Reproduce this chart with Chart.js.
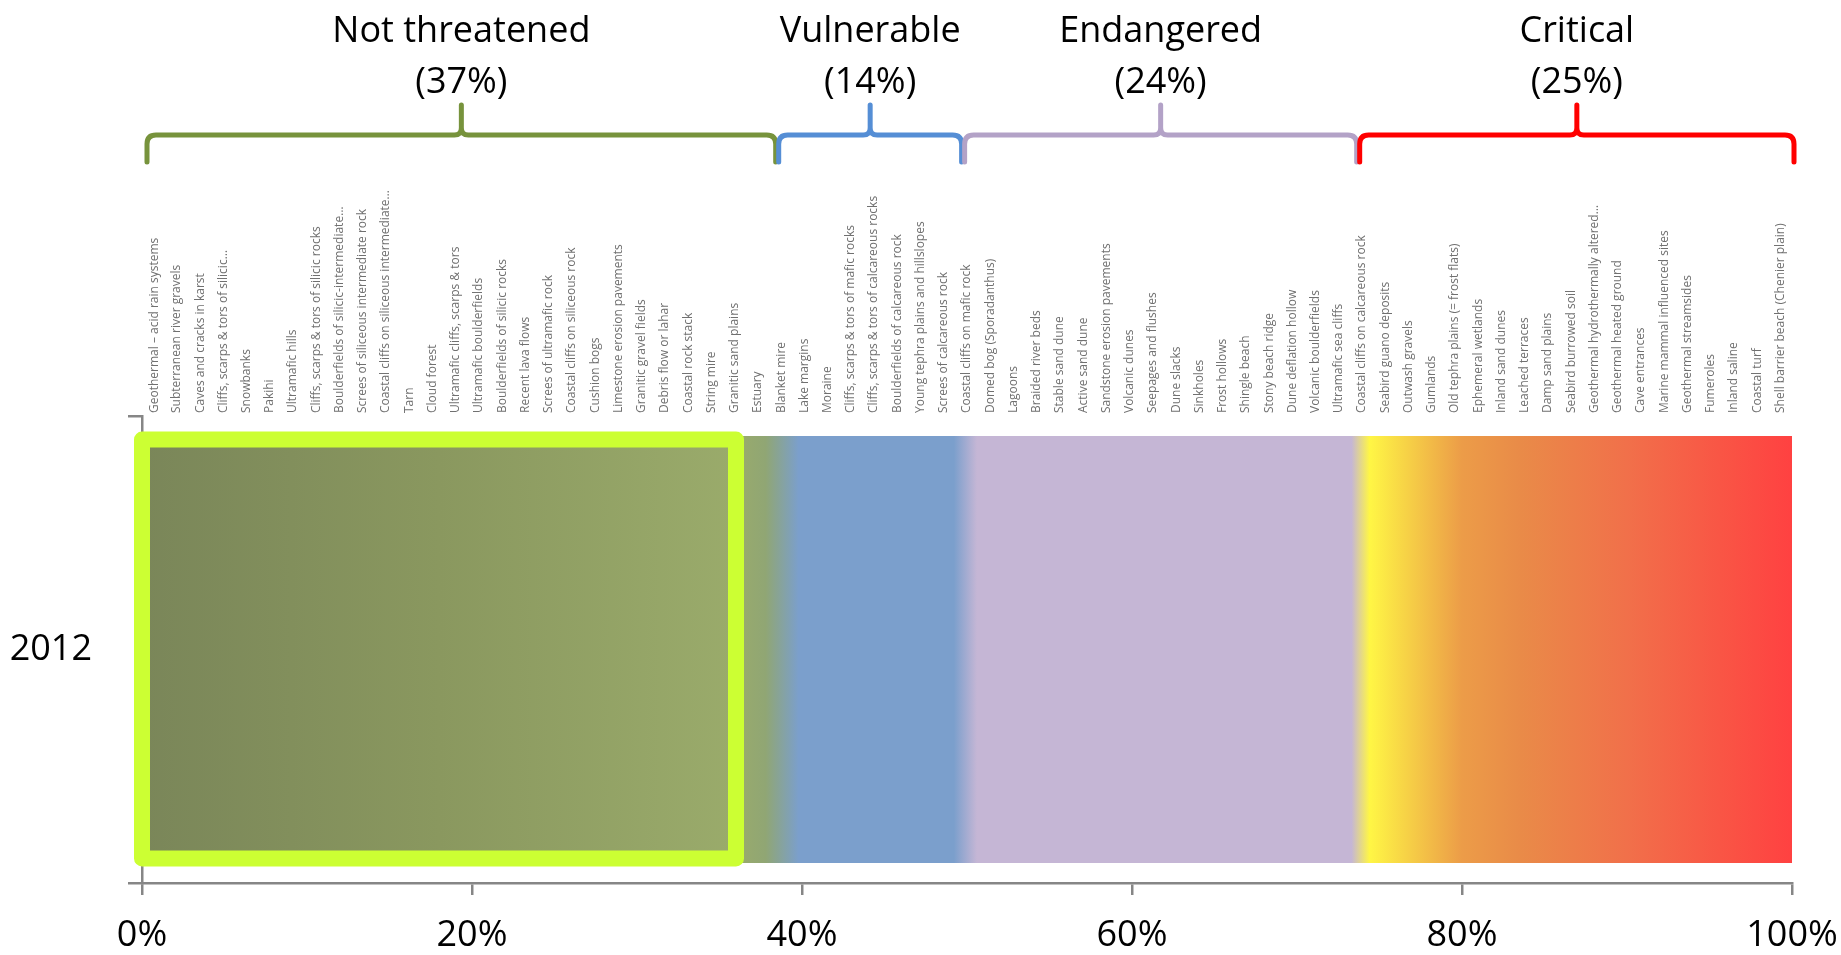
<!DOCTYPE html>
<html>
<head>
<meta charset="utf-8">
<title>Threat status of naturally uncommon ecosystems, 2012</title>
<script src="https://cdn.jsdelivr.net/npm/chart.js@4.4.1/dist/chart.umd.min.js"></script>
<style>
  html, body { margin: 0; padding: 0; background: #ffffff; }
  #wrap { width: 1841px; height: 955px; position: relative; }
</style>
</head>
<body>
<div id="wrap"><canvas id="chart"></canvas></div>
<script>
// ---- data -------------------------------------------------------------
const years = ['2012'];

const notThreatened = [
  'Geothermal – acid rain systems', 'Subterranean river gravels', 'Caves and cracks in karst',
  'Cliffs, scarps & tors of silicic…', 'Snowbanks', 'Pakihi', 'Ultramafic hills',
  'Cliffs, scarps & tors of silicic rocks', 'Boulderfields of silicic-intermediate…',
  'Screes of siliceous intermediate rock', 'Coastal cliffs on siliceous intermediate…',
  'Tarn', 'Cloud forest', 'Ultramafic cliffs, scarps & tors', 'Ultramafic boulderfields',
  'Boulderfields of silicic rocks', 'Recent lava flows', 'Screes of ultramafic rock',
  'Coastal cliffs on siliceous rock', 'Cushion bogs', 'Limestone erosion pavements',
  'Granitic gravel fields', 'Debris flow or lahar', 'Coastal rock stack', 'String mire',
  'Granitic sand plains', 'Estuary', 'Blanket mire'
];
const vulnerable = [
  'Lake margins', 'Moraine', 'Cliffs, scarps & tors of mafic rocks',
  'Cliffs, scarps & tors of calcareous rocks', 'Boulderfields of calcareous rock',
  'Young tephra plains and hillslopes', 'Screes of calcareous rock', 'Coastal cliffs on mafic rock'
];
const endangered = [
  'Domed bog (Sporadanthus)', 'Lagoons', 'Braided river beds', 'Stable sand dune',
  'Active sand dune', 'Sandstone erosion pavements', 'Volcanic dunes', 'Seepages and flushes',
  'Dune slacks', 'Sinkholes', 'Frost hollows', 'Shingle beach', 'Stony beach ridge',
  'Dune deflation hollow', 'Volcanic boulderfields', 'Ultramafic sea cliffs',
  'Coastal cliffs on calcareous rock'
];
const critical = [
  'Seabird guano deposits', 'Outwash gravels', 'Gumlands', 'Old tephra plains (= frost flats)',
  'Ephemeral wetlands', 'Inland sand dunes', 'Leached terraces', 'Damp sand plains',
  'Seabird burrowed soil', 'Geothermal hydrothermally altered…', 'Geothermal heated ground',
  'Cave entrances', 'Marine mammal influenced sites', 'Geothermal streamsides', 'Fumeroles',
  'Inland saline', 'Coastal turf', 'Shell barrier beach (Chenier plain)'
];

const groupNames  = ['Not threatened', 'Vulnerable', 'Endangered', 'Critical'];
const groupShares = [37, 14, 24, 25];          // % of ecosystems in each class
const xTickValues = [0, 20, 40, 60, 80, 100];   // % axis ticks
const highlightSpan = [0, 36];                  // % span of the outlined block

// ---- styles -----------------------------------------------------------
const FONT = '"Open Sans", "Liberation Sans", sans-serif';
const AXIS_GREY = '#868686';
const braceColors = ['#77933c', '#558ed5', '#b3a2c7', '#ff0000'];
const gradientStops = [
  [0.0,  '#7a8659'], [18.0, '#8a985f'], [36.0, '#9aab6b'], [37.8, '#90a674'],
  [39.8, '#7b9fcc'], [49.2, '#7b9fcc'], [50.6, '#c5b6d5'], [73.3, '#c5b6d5'],
  [74.4, '#fff645'], [76.5, '#f7d446'], [80.0, '#ec9c48'], [83.5, '#e98b48'],
  [90.0, '#f1704a'], [100.0, '#ff4141']
];

const groups = [notThreatened, vulnerable, endangered, critical];
const ecosystems = groups.flat();
const sharePerEcosystem = 100 / ecosystems.length;

// One continuous gradient across the whole axis, shared by every segment
function barGradient(ctx) {
  const chart = ctx.chart;
  const area = chart.chartArea;
  if (!area) return '#999999';
  if (!chart.$barGrad || chart.$barGradKey !== area.left + ':' + area.right) {
    const g = chart.ctx.createLinearGradient(area.left, 0, area.right, 0);
    gradientStops.forEach(([p, c]) => g.addColorStop(p / 100, c));
    chart.$barGrad = g;
    chart.$barGradKey = area.left + ':' + area.right;
  }
  return chart.$barGrad;
}

const datasets = ecosystems.map(name => ({
  label: name,
  data: [sharePerEcosystem],
  backgroundColor: barGradient,
  borderWidth: 0,
  inflateAmount: 0.6,
  barPercentage: 0.912,
  categoryPercentage: 1.0
}));

// Curly brace over a range, with a centre spike
function drawBrace(ctx, x0, x1, y, color) {
  const xm = (x0 + x1) / 2, r = 9, drop = 27, rise = 30;
  ctx.save();
  ctx.strokeStyle = color;
  ctx.lineWidth = 5;
  ctx.lineCap = 'round';
  ctx.lineJoin = 'round';
  ctx.beginPath();
  ctx.moveTo(x0, y + drop);
  ctx.lineTo(x0, y + r);
  ctx.quadraticCurveTo(x0, y, x0 + r, y);
  ctx.lineTo(xm - 7, y);
  ctx.quadraticCurveTo(xm, y, xm, y - 7);
  ctx.lineTo(xm, y - rise);
  ctx.moveTo(xm, y - 7);
  ctx.quadraticCurveTo(xm, y, xm + 7, y);
  ctx.lineTo(x1 - r, y);
  ctx.quadraticCurveTo(x1, y, x1, y + r);
  ctx.lineTo(x1, y + drop);
  ctx.stroke();
  ctx.restore();
}

const decorations = {
  id: 'decorations',
  afterDatasetsDraw(chart) {
    const { ctx } = chart;
    const x = chart.scales.x;
    const bar = chart.getDatasetMeta(0).data[0];
    const top = bar.y - bar.height / 2;
    const bottom = bar.y + bar.height / 2;
    const xa = x.getPixelForValue(highlightSpan[0]);
    const xb = x.getPixelForValue(highlightSpan[1]);
    ctx.save();
    ctx.strokeStyle = '#ccff33';
    ctx.lineWidth = 16;
    ctx.lineJoin = 'round';
    ctx.strokeRect(xa, top + 3, xb - xa, bottom - top - 7);
    ctx.restore();
  },
  afterDraw(chart) {
    const { ctx, chartArea } = chart;
    const x = chart.scales.x;

    // ecosystem names above their segments
    ctx.save();
    ctx.font = '12px ' + FONT;
    ctx.fillStyle = '#707070';
    ctx.filter = 'blur(0.45px)';
    ctx.textAlign = 'left';
    ctx.textBaseline = 'middle';
    ecosystems.forEach((name, i) => {
      const el = chart.getDatasetMeta(i).data[0];
      const cx = (el.x + el.base) / 2;
      ctx.save();
      ctx.translate(cx, chartArea.top - 3);
      ctx.rotate(-Math.PI / 2);
      ctx.fillText(name, 0, 0);
      ctx.restore();
    });
    ctx.restore();

    // class braces and captions
    let start = 0;
    groups.forEach((g, gi) => {
      const end = start + g.length;
      const pStart = start * sharePerEcosystem;
      const pEnd = end * sharePerEcosystem;
      const x0 = gi === 0 ? x.getPixelForValue(pStart) + 5 : x.getPixelForValue(pStart) - 14;
      const x1 = gi === groups.length - 1 ? x.getPixelForValue(pEnd) + 2 : x.getPixelForValue(pEnd) - 17;
      drawBrace(ctx, x0, x1, 135, braceColors[gi]);
      const xm = (x0 + x1) / 2;
      ctx.save();
      ctx.font = '36px ' + FONT;
      ctx.fillStyle = '#000000';
      ctx.textAlign = 'center';
      ctx.textBaseline = 'alphabetic';
      ctx.fillText(groupNames[gi], xm, 42);
      ctx.fillText('(' + groupShares[gi] + '%)', xm, 93);
      ctx.restore();
      start = end;
    });
  }
};

new Chart(document.getElementById('chart'), {
  type: 'bar',
  data: { labels: years, datasets },
  options: {
    indexAxis: 'y',
    responsive: true,
    maintainAspectRatio: false,
    animation: false,
    events: [],
    layout: { padding: { top: 416, right: 49, bottom: 0, left: 0 } },
    plugins: { legend: { display: false }, tooltip: { enabled: false }, title: { display: false } },
    scales: {
      x: {
        stacked: true,
        min: xTickValues[0],
        max: xTickValues[xTickValues.length - 1],
        afterBuildTicks(scale) { scale.ticks = xTickValues.map(v => ({ value: v })); },
        afterFit(scale) {
          scale.height = 72;
          scale.paddingLeft = 0;
          scale.paddingRight = 0;
        },
        grid: { drawOnChartArea: false, drawTicks: true, tickLength: 12, color: AXIS_GREY, lineWidth: 2.5 },
        border: { display: true, color: AXIS_GREY, width: 2.5 },
        ticks: {
          font: { family: FONT, size: 36 },
          color: '#000000',
          padding: 19,
          maxRotation: 0,
          callback: v => v + '%'
        }
      },
      y: {
        stacked: true,
        afterFit(scale) {
          scale.width = 142;
          scale.paddingTop = 0;
          scale.paddingBottom = 0;
        },
        grid: { drawOnChartArea: false, drawTicks: true, tickLength: 14, color: AXIS_GREY, lineWidth: 2.5 },
        border: { display: true, color: AXIS_GREY, width: 2.5 },
        ticks: { font: { family: FONT, size: 36 }, color: '#000000', padding: 36 }
      }
    }
  },
  plugins: [decorations]
});
</script>
</body>
</html>
